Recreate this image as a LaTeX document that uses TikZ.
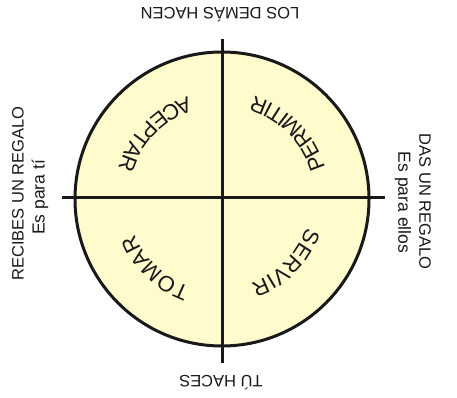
\documentclass[tikz,border=0pt]{standalone}
\usepackage{fontspec}
\setmainfont{Liberation Sans}
\usetikzlibrary{decorations.text}
\definecolor{pale}{RGB}{255,251,204}
\definecolor{ink}{RGB}{25,25,25}
\newcommand{\quadfont}{\fontsize{22}{24}\selectfont}
\begin{document}
\begin{tikzpicture}[x=1pt,y=1pt,
  lbl/.style={inner sep=0pt, text=ink, font=\fontsize{16.5}{18}\selectfont},
  sublbl/.style={lbl, font=\fontsize{17.5}{19}\selectfont},
  heavy/.style={draw=ink, line width=3pt},
  arctext/.style={decorate, decoration={text along path, text align=center, text color=ink, text={|\quadfont|#1}}}]
\useasboundingbox (0,0) rectangle (457,398);
\coordinate (C) at (222,199);
\fill[pale] (C) circle (147);
\draw[heavy] (C) circle (147);
\coordinate (L) at (62,200);
\coordinate (R) at (385,200);
\coordinate (T) at (222,359);
\coordinate (B) at (222,35);
\draw[heavy] (L) -- (R);
\draw[heavy] (T) -- (B);
% quadrant words
\path[arctext=PERMITIR] ([shift={(0:108)}]C) arc[start angle=0, end angle=90, radius=108];
\path[arctext=ACEPTAR] ([shift={(91:108)}]C) arc[start angle=91, end angle=181, radius=108];
\path[arctext=SERVIR] ([shift={(0:89)}]C) arc[start angle=0, end angle=-90, radius=89];
\path[arctext=TOMAR] ([shift={(271:94)}]C) arc[start angle=271, end angle=181, radius=94];
% outer labels
\node[lbl, rotate=180] (top) at (220,383) {LOS DEMÁS HACEN};
\node[lbl, rotate=180] (bot) at (221,15) {TÚ HACES};
\node[lbl, rotate=90] (l1) at (18,204.5) {RECIBES UN REGALO};
\node[sublbl, rotate=90] (l2) at (40,200.5) {Es para tí};
\node[lbl, rotate=-90] (r1) at (425,196.5) {DAS UN REGALO};
\node[sublbl, rotate=-90] (r2) at (403,195.5) {Es para ellos};
\end{tikzpicture}
\end{document}
